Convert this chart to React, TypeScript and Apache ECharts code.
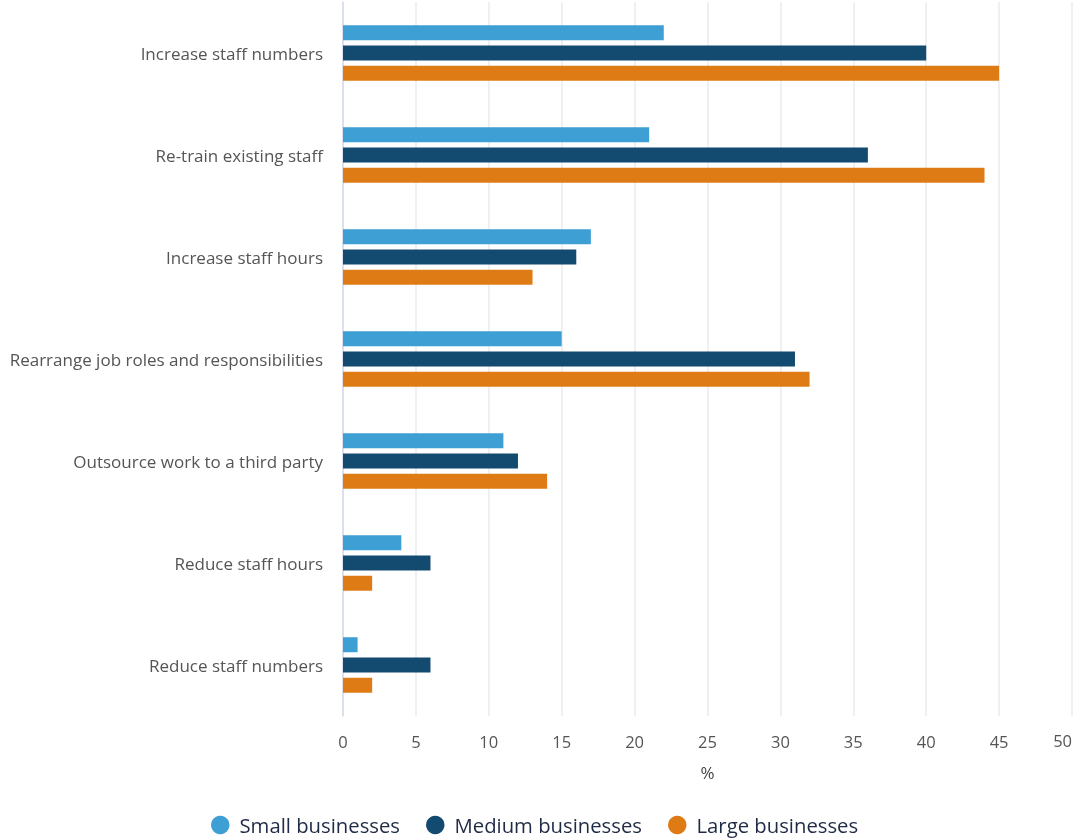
import React, { useEffect, useRef } from "react";
import * as echarts from "echarts";

const categories = [
  "Increase staff numbers",
  "Re-train existing staff",
  "Increase staff hours",
  "Rearrange job roles and responsibilities",
  "Outsource work to a third party",
  "Reduce staff hours",
  "Reduce staff numbers",
];
const smallBusinesses = [22, 21, 17, 15, 11, 4, 1];
const mediumBusinesses = [40, 36, 16, 31, 12, 6, 6];
const largeBusinesses = [45, 44, 13, 32, 14, 2, 2];
const xTicks = { min: 0, max: 50, interval: 5 };

export default function App() {
  const ref = useRef<HTMLDivElement>(null);
  useEffect(() => {
    if (!ref.current) return;
    const chart = echarts.init(ref.current, undefined, { renderer: "svg" });
    const font = "'Open Sans', 'Noto Sans', sans-serif";
    const mk = (name: string, data: number[], color: string) => ({
      name,
      type: "bar",
      data,
      barWidth: 15,
      barGap: "35%",
      itemStyle: { color },
    });
    chart.setOption({
      animation: false,
      textStyle: { fontFamily: font },
      grid: { left: 343, right: 4, top: 2, bottom: 124, outerBoundsMode: "none", containLabel: false },
      legend: {
        bottom: 0,
        left: 206,
        icon: "circle",
        itemWidth: 18.5,
        itemHeight: 18.5,
        itemGap: 26,
        textStyle: { fontSize: 20.3, color: "#1f2a44", fontFamily: font, padding: [0, 0, 0, 5] },
        data: ["Small businesses", "Medium businesses", "Large businesses"],
      },
      graphic: [
        {
          type: "text",
          right: 4,
          top: 732,
          style: { text: String(xTicks.max), fontSize: 16.5, fill: "#555", fontFamily: font },
        },
      ],
      xAxis: {
        type: "value",
        min: xTicks.min,
        max: xTicks.max,
        interval: xTicks.interval,
        name: "%",
        nameLocation: "middle",
        nameGap: 48,
        nameTextStyle: { fontSize: 17, color: "#444" },
        axisLine: { show: false },
        axisTick: { show: false },
        axisLabel: { fontSize: 16.5, color: "#555", margin: 17, showMaxLabel: false },
        splitLine: { show: true, lineStyle: { color: "#e8ebef", width: 1.5 } },
      },
      yAxis: {
        type: "category",
        data: categories,
        inverse: true,
        axisLine: { show: true, lineStyle: { color: "#d4dde8", width: 1.5 } },
        axisTick: { show: false },
        axisLabel: { fontSize: 17, color: "#555", margin: 20 },
      },
      series: [
        mk("Small businesses", smallBusinesses, "#3d9fd4"),
        mk("Medium businesses", mediumBusinesses, "#134a6f"),
        mk("Large businesses", largeBusinesses, "#df7b14"),
      ],
    });
    return () => chart.dispose();
  }, []);
  return (
    <div
      ref={ref}
      style={{ position: "fixed", left: 0, top: 0, width: 1076, height: 840 }}
    />
  );
}
